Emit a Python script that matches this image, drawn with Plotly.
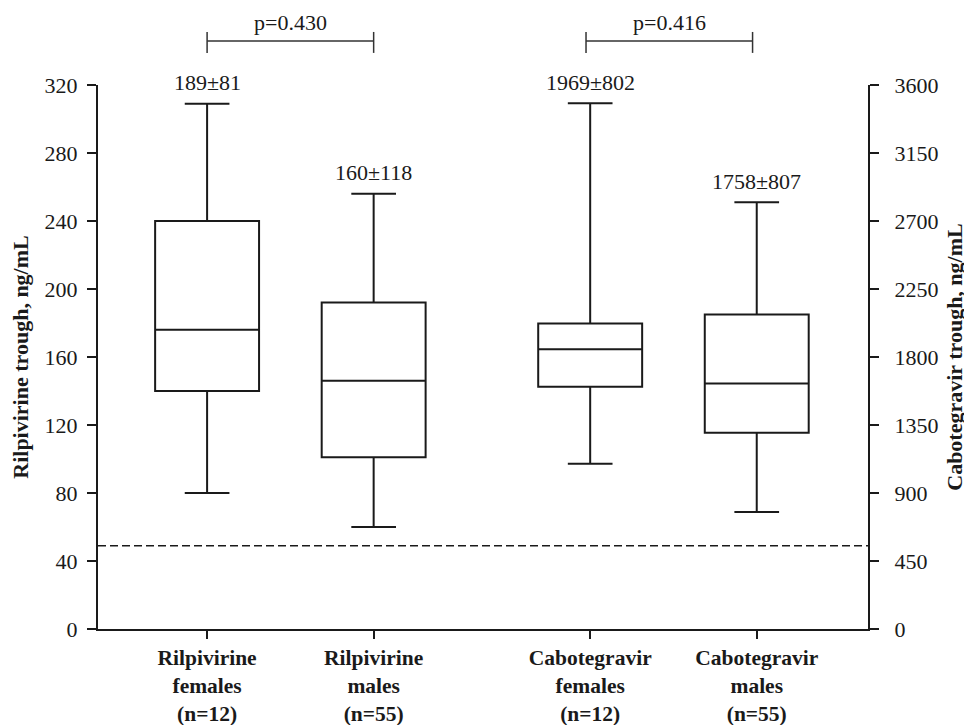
import plotly.graph_objects as go

# ---- data ----
rpv_labels = ["Rilpivirine<br>females<br>(n=12)", "Rilpivirine<br>males<br>(n=55)"]
cab_labels = ["Cabotegravir<br>females<br>(n=12)", "Cabotegravir<br>males<br>(n=55)"]

rpv_lower = [80, 60]
rpv_q1 = [140, 101]
rpv_median = [176, 146]
rpv_q3 = [240, 192]
rpv_upper = [309, 256]
rpv_mean_sd = ["189±81", "160±118"]

cab_lower = [1093, 774]
cab_q1 = [1603, 1298]
cab_median = [1852, 1625]
cab_q3 = [2021, 2081]
cab_upper = [3479, 2824]
cab_mean_sd = ["1969±802", "1758±807"]

p_values = ["p=0.430", "p=0.416"]
threshold_rpv = 49

rpv_ticks = [0, 40, 80, 120, 160, 200, 240, 280, 320]
cab_ticks = [0, 450, 900, 1350, 1800, 2250, 2700, 3150, 3600]

# ---- layout helpers ----
rpv_pos = [1.0, 2.0]
cab_pos = [3.3, 4.3]
bracket_shift = [0.0, -0.025]
x_range = [0.345, 4.968]
box_w = 0.624

FONT = "Liberation Serif, Times New Roman, serif"
INK = "#1a1a1a"
NB = "\u00a0"

fig = go.Figure()

fig.add_trace(go.Box(
    x=rpv_pos, q1=rpv_q1, median=rpv_median, q3=rpv_q3,
    lowerfence=rpv_lower, upperfence=rpv_upper,
    width=box_w, whiskerwidth=0.43, boxpoints=False,
    line=dict(color=INK, width=2), fillcolor="white",
    yaxis="y", showlegend=False, hoverinfo="skip",
))
fig.add_trace(go.Box(
    x=cab_pos, q1=cab_q1, median=cab_median, q3=cab_q3,
    lowerfence=cab_lower, upperfence=cab_upper,
    width=box_w, whiskerwidth=0.43, boxpoints=False,
    line=dict(color=INK, width=2), fillcolor="white",
    yaxis="y2", showlegend=False, hoverinfo="skip",
))

# threshold dashed line
fig.add_shape(type="line", xref="paper", yref="y", x0=0, x1=1,
              y0=threshold_rpv, y1=threshold_rpv,
              line=dict(color=INK, width=1.6, dash="8px,4px"))

annotations = []
for x, yv, t in zip(rpv_pos, rpv_upper, rpv_mean_sd):
    annotations.append(dict(x=x, y=yv, xref="x", yref="y", text=t, showarrow=False,
                            yanchor="middle", yshift=21,
                            font=dict(family=FONT, size=22, color=INK)))
for x, yv, t in zip(cab_pos, cab_upper, cab_mean_sd):
    annotations.append(dict(x=x, y=yv, xref="x", yref="y2", text=t, showarrow=False,
                            yanchor="middle", yshift=21,
                            font=dict(family=FONT, size=22, color=INK)))

# p-value brackets
for pair, p, sh in zip([rpv_pos, cab_pos], p_values, bracket_shift):
    a, b = pair[0] + sh, pair[1] + sh
    fig.add_shape(type="line", xref="x", yref="paper", x0=a, x1=b, y0=1.081, y1=1.081,
                  line=dict(color="#333", width=1.5))
    for xx in (a, b):
        fig.add_shape(type="line", xref="x", yref="paper", x0=xx, x1=xx, y0=1.059, y1=1.0975,
                      line=dict(color="#333", width=1.5))
    annotations.append(dict(x=(a + b) / 2, y=1.1157, xref="x", yref="paper", text=p,
                            showarrow=False, yanchor="middle",
                            font=dict(family=FONT, size=22, color=INK)))

# the page body adds an 8px offset; size the figure so the plot lands where the reference has it
fig.update_layout(
    width=964, height=717,
    margin=dict(l=90, r=104, t=77, b=96),
    paper_bgcolor="white", plot_bgcolor="white",
    font=dict(family=FONT, size=22, color=INK),
    showlegend=False,
    annotations=annotations,
    xaxis=dict(
        range=x_range, showgrid=False, zeroline=False, automargin=False,
        showline=True, linecolor=INK, linewidth=2,
        ticks="outside", ticklen=8, tickwidth=1.5, tickcolor=INK,
        tickvals=rpv_pos + cab_pos,
        ticktext=["<b>" + t + "</b>" for t in rpv_labels + cab_labels],
        tickfont=dict(family=FONT, size=21.5, color=INK),
        ticklabelstandoff=0,
    ),
    yaxis=dict(
        range=[0, 320], tickvals=rpv_ticks, showgrid=False, zeroline=False, automargin=False,
        showline=True, linecolor=INK, linewidth=2,
        ticks="outside", ticklen=9, tickwidth=1.5, tickcolor=INK,
        tickfont=dict(family=FONT, size=22, color=INK),
        ticklabelstandoff=5,
        title=dict(text="<b>Rilpivirine trough, ng/mL</b>", standoff=11,
                   font=dict(family=FONT, size=22, color=INK)),
    ),
    yaxis2=dict(
        range=[0, 3600], tickvals=cab_ticks,
        ticktext=[NB + NB + str(v) for v in cab_ticks],
        overlaying="y", side="right", anchor="x",
        showgrid=False, zeroline=False, automargin=False,
        showline=True, linecolor=INK, linewidth=2,
        ticks="outside", ticklen=9, tickwidth=1.5, tickcolor=INK,
        tickfont=dict(family=FONT, size=22, color=INK),
        title=dict(text="<b>Cabotegravir trough, ng/mL</b>", standoff=9,
                   font=dict(family=FONT, size=22, color=INK)),
    ),
)

fig.write_html("out.html")
